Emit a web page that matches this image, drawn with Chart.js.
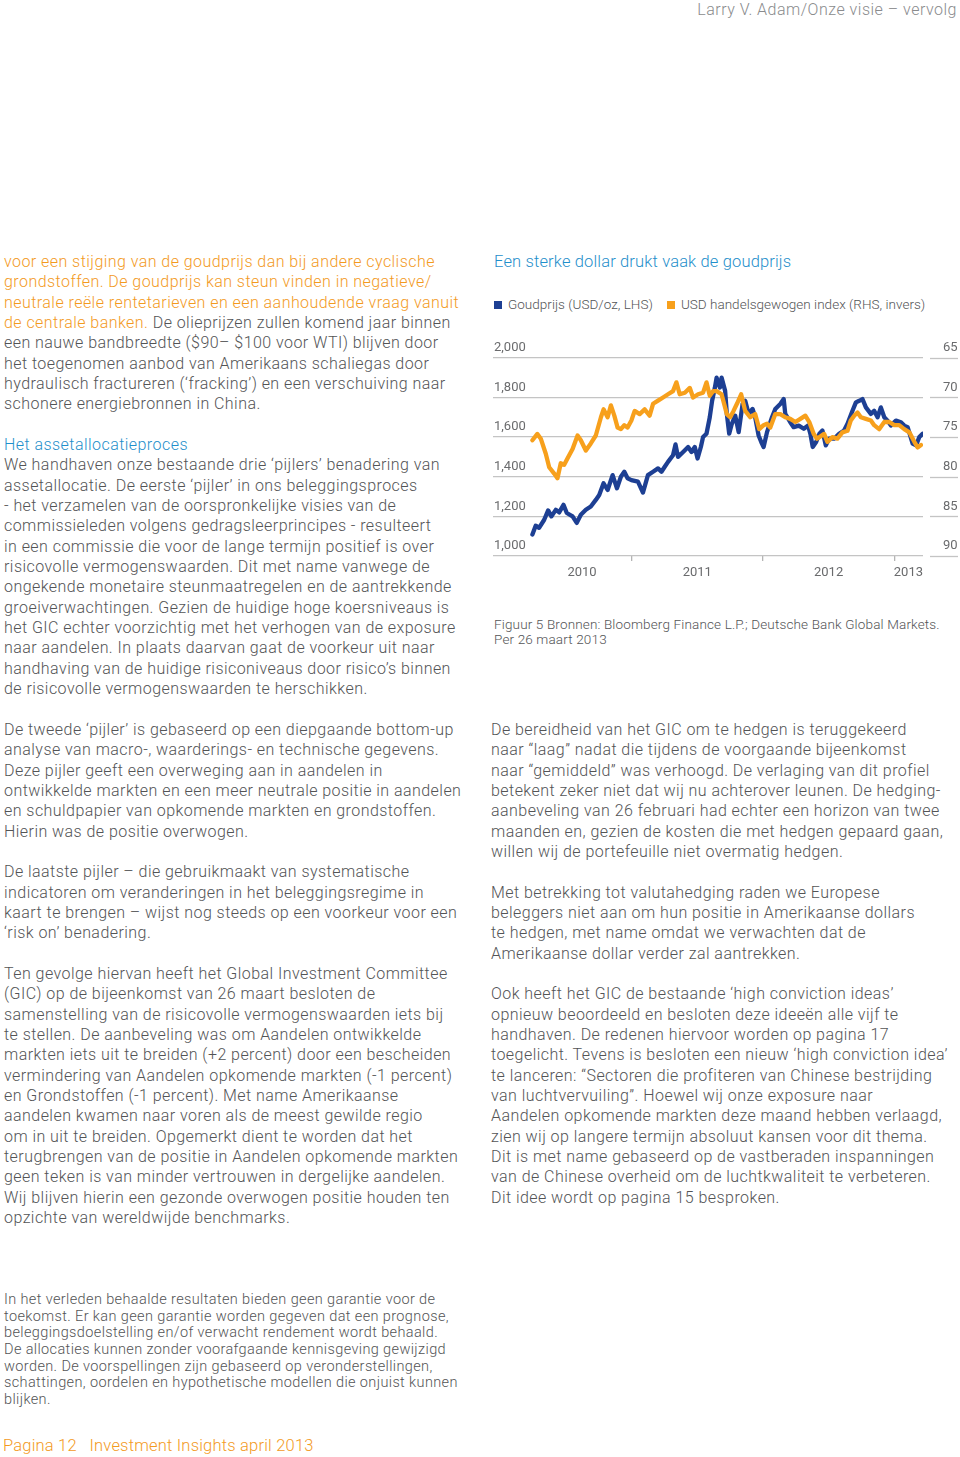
<!DOCTYPE html>
<html>
<head>
<meta charset="utf-8">
<script src="https://cdn.jsdelivr.net/npm/chart.js@4"></script>
<style>
  html, body { margin: 0; padding: 0; background: #fff; }
  body { width: 960px; height: 1457px; position: relative; overflow: hidden;
         font-family: 'Roboto', 'Liberation Sans', sans-serif; font-weight: 300; color: #535456; }
  .blk { position: absolute; font-size: 16px; letter-spacing: 0.45px; line-height: 20.33px; white-space: nowrap; }
  .or { color: #f39a1e; }
  .bl { color: #1f8fcb; }
  #header { position: absolute; right: 3px; top: 0; font-size: 16px; letter-spacing: 0.5px; color: #8a8b8d; line-height: 20px; }
  #title { position: absolute; left: 494px; top: 251px; font-size: 16.5px; letter-spacing: 0.15px; color: #1f8fcb; line-height: 22px; }
  #legend { position: absolute; left: 494px; top: 296px; font-size: 13.5px; letter-spacing: 0.02px; line-height: 16px; color: #535456; white-space: nowrap; }
  #legend span.box { display: inline-block; width: 8px; height: 8px; margin-right: 6px; vertical-align: 0px; }
  #legend span.item { margin-right: 14px; }
  #chartWrap { position: absolute; left: 490px; top: 330px; width: 470px; height: 260px; }
  #caption { position: absolute; left: 494px; top: 617px; font-size: 13.5px; letter-spacing: 0.15px; line-height: 15px; color: #535456; white-space: nowrap; }
  #disc { position: absolute; left: 4px; top: 1292px; font-size: 14.5px; letter-spacing: 0.38px; line-height: 16.67px; white-space: nowrap; }
  #foot { position: absolute; left: 3px; top: 1436px; font-size: 16.5px; letter-spacing: 0.2px; line-height: 20px; color: #f39a1e; white-space: nowrap; }
</style>
</head>
<body>
<div id="header">Larry V. Adam/Onze visie – vervolg</div>

<div class="blk" style="left:4px; top:252px;">
<span class="or">voor een stijging van de goudprijs dan bij andere cyclische<br>
grondstoffen. De goudprijs kan steun vinden in negatieve/<br>
neutrale reële rentetarieven en een aanhoudende vraag vanuit<br>
de centrale banken.</span> De olieprijzen zullen komend jaar binnen<br>
een nauwe bandbreedte ($90– $100 voor WTI) blijven door<br>
het toegenomen aanbod van Amerikaans schaliegas door<br>
hydraulisch fractureren (‘fracking’) en een verschuiving naar<br>
schonere energiebronnen in China.<br>
<br>
<span class="bl">Het assetallocatieproces</span><br>
We handhaven onze bestaande drie ‘pijlers’ benadering van<br>
assetallocatie. De eerste ‘pijler’ in ons beleggingsproces<br>
- het verzamelen van de oorspronkelijke visies van de<br>
commissieleden volgens gedragsleerprincipes - resulteert<br>
in een commissie die voor de lange termijn positief is over<br>
risicovolle vermogenswaarden. Dit met name vanwege de<br>
ongekende monetaire steunmaatregelen en de aantrekkende<br>
groeiverwachtingen. Gezien de huidige hoge koersniveaus is<br>
het GIC echter voorzichtig met het verhogen van de exposure<br>
naar aandelen. In plaats daarvan gaat de voorkeur uit naar<br>
handhaving van de huidige risiconiveaus door risico’s binnen<br>
de risicovolle vermogenswaarden te herschikken.
</div>

<div class="blk" style="left:4px; top:720px;">
De tweede ‘pijler’ is gebaseerd op een diepgaande bottom-up<br>
analyse van macro-, waarderings- en technische gegevens.<br>
Deze pijler geeft een overweging aan in aandelen in<br>
ontwikkelde markten en een meer neutrale positie in aandelen<br>
en schuldpapier van opkomende markten en grondstoffen.<br>
Hierin was de positie overwogen.<br>
<br>
De laatste pijler – die gebruikmaakt van systematische<br>
indicatoren om veranderingen in het beleggingsregime in<br>
kaart te brengen – wijst nog steeds op een voorkeur voor een<br>
‘risk on’ benadering.<br>
<br>
Ten gevolge hiervan heeft het Global Investment Committee<br>
(GIC) op de bijeenkomst van 26 maart besloten de<br>
samenstelling van de risicovolle vermogenswaarden iets bij<br>
te stellen. De aanbeveling was om Aandelen ontwikkelde<br>
markten iets uit te breiden (+2 percent) door een bescheiden<br>
vermindering van Aandelen opkomende markten (-1 percent)<br>
en Grondstoffen (-1 percent). Met name Amerikaanse<br>
aandelen kwamen naar voren als de meest gewilde regio<br>
om in uit te breiden. Opgemerkt dient te worden dat het<br>
terugbrengen van de positie in Aandelen opkomende markten<br>
geen teken is van minder vertrouwen in dergelijke aandelen.<br>
Wij blijven hierin een gezonde overwogen positie houden ten<br>
opzichte van wereldwijde benchmarks.
</div>

<div class="blk" style="left:491px; top:720px;">
De bereidheid van het GIC om te hedgen is teruggekeerd<br>
naar “laag” nadat die tijdens de voorgaande bijeenkomst<br>
naar “gemiddeld” was verhoogd. De verlaging van dit profiel<br>
betekent zeker niet dat wij nu achterover leunen. De hedging-<br>
aanbeveling van 26 februari had echter een horizon van twee<br>
maanden en, gezien de kosten die met hedgen gepaard gaan,<br>
willen wij de portefeuille niet overmatig hedgen.<br>
<br>
Met betrekking tot valutahedging raden we Europese<br>
beleggers niet aan om hun positie in Amerikaanse dollars<br>
te hedgen, met name omdat we verwachten dat de<br>
Amerikaanse dollar verder zal aantrekken.<br>
<br>
Ook heeft het GIC de bestaande ‘high conviction ideas’<br>
opnieuw beoordeeld en besloten deze ideeën alle vijf te<br>
handhaven. De redenen hiervoor worden op pagina 17<br>
toegelicht. Tevens is besloten een nieuw ‘high conviction idea’<br>
te lanceren: “Sectoren die profiteren van Chinese bestrijding<br>
van luchtvervuiling”. Hoewel wij onze exposure naar<br>
Aandelen opkomende markten deze maand hebben verlaagd,<br>
zien wij op langere termijn absoluut kansen voor dit thema.<br>
Dit is met name gebaseerd op de vastberaden inspanningen<br>
van de Chinese overheid om de luchtkwaliteit te verbeteren.<br>
Dit idee wordt op pagina 15 besproken.
</div>

<div id="title">Een sterke dollar drukt vaak de goudprijs</div>
<div id="legend"></div>
<div id="chartWrap"><canvas id="chart"></canvas></div>
<div id="caption">Figuur 5 Bronnen: Bloomberg Finance L.P.; Deutsche Bank Global Markets.<br>Per 26 maart 2013</div>

<div id="disc">
In het verleden behaalde resultaten bieden geen garantie voor de<br>
toekomst. Er kan geen garantie worden gegeven dat een prognose,<br>
beleggingsdoelstelling en/of verwacht rendement wordt behaald.<br>
De allocaties kunnen zonder voorafgaande kennisgeving gewijzigd<br>
worden. De voorspellingen zijn gebaseerd op veronderstellingen,<br>
schattingen, oordelen en hypothetische modellen die onjuist kunnen<br>
blijken.
</div>
<div id="foot">Pagina 12&nbsp;&nbsp;&nbsp;Investment Insights april 2013</div>

<script>
// series labels
const seriesLabels = ['Goudprijs (USD/oz, LHS)', 'USD handelsgewogen index (RHS, invers)'];
const seriesColors = ['#1d3f93', '#f7a01c'];

// gold price, dates as decimal years
const goldDates = [
  2010.244, 2010.269, 2010.295, 2010.334, 2010.364, 2010.389, 2010.422, 2010.448, 2010.481, 2010.506,
  2010.550, 2010.582, 2010.613, 2010.651, 2010.689, 2010.727, 2010.753, 2010.786, 2010.817, 2010.855,
  2010.888, 2010.918, 2010.944, 2010.969, 2010.998, 2011.048, 2011.086, 2011.124, 2011.163, 2011.201,
  2011.227, 2011.252, 2011.277, 2011.315, 2011.334, 2011.353, 2011.392, 2011.430, 2011.456, 2011.481,
  2011.502, 2011.527, 2011.544, 2011.570, 2011.595, 2011.613, 2011.634, 2011.647, 2011.672, 2011.685,
  2011.712, 2011.725, 2011.743, 2011.763, 2011.789, 2011.815, 2011.845, 2011.865, 2011.891, 2011.921,
  2011.941, 2011.967, 2011.987, 2012.005, 2012.031, 2012.069, 2012.094, 2012.132, 2012.158, 2012.170,
  2012.208, 2012.234, 2012.273, 2012.311, 2012.344, 2012.361, 2012.379, 2012.405, 2012.430, 2012.453,
  2012.479, 2012.504, 2012.542, 2012.580, 2012.618, 2012.644, 2012.682, 2012.708, 2012.733, 2012.758,
  2012.784, 2012.822, 2012.847, 2012.873, 2012.898, 2012.924, 2012.949, 2012.975, 2013.013, 2013.051,
  2013.076, 2013.102, 2013.140, 2013.166, 2013.191, 2013.216
];
const goldPrice = [
  1108, 1153, 1142, 1183, 1230, 1200, 1233, 1220, 1258, 1217,
  1200, 1167, 1208, 1233, 1250, 1283, 1308, 1367, 1333, 1408,
  1342, 1400, 1425, 1392, 1383, 1375, 1320, 1408, 1425, 1442,
  1425, 1450, 1475, 1508, 1563, 1500, 1525, 1550, 1525, 1550,
  1492, 1550, 1600, 1617, 1700, 1783, 1850, 1900, 1850, 1900,
  1833, 1717, 1617, 1667, 1708, 1625, 1767, 1783, 1717, 1742,
  1700, 1608, 1575, 1550, 1625, 1700, 1742, 1767, 1792, 1717,
  1675, 1650, 1658, 1642, 1658, 1617, 1550, 1575, 1617, 1633,
  1558, 1592, 1592, 1617, 1633, 1667, 1733, 1775, 1783, 1792,
  1750, 1717, 1733, 1700, 1750, 1700, 1683, 1658, 1683, 1675,
  1658, 1650, 1567, 1558, 1600, 1617
];

// USD trade weighted index (plotted inverted on right axis)
const usdDates = [
  2010.244, 2010.282, 2010.308, 2010.346, 2010.372, 2010.410, 2010.435, 2010.460, 2010.486, 2010.511,
  2010.550, 2010.588, 2010.613, 2010.651, 2010.689, 2010.727, 2010.766, 2010.786, 2010.817, 2010.842,
  2010.868, 2010.893, 2010.918, 2010.944, 2010.969, 2010.998, 2011.023, 2011.061, 2011.099, 2011.137,
  2011.163, 2011.201, 2011.239, 2011.277, 2011.315, 2011.341, 2011.366, 2011.405, 2011.443, 2011.468,
  2011.506, 2011.544, 2011.570, 2011.595, 2011.621, 2011.647, 2011.685, 2011.725, 2011.750, 2011.776,
  2011.802, 2011.834, 2011.865, 2011.903, 2011.941, 2011.972, 2012.005, 2012.031, 2012.056, 2012.094,
  2012.132, 2012.170, 2012.208, 2012.247, 2012.285, 2012.323, 2012.353, 2012.387, 2012.412, 2012.466,
  2012.491, 2012.529, 2012.567, 2012.605, 2012.644, 2012.669, 2012.695, 2012.720, 2012.746, 2012.784,
  2012.822, 2012.847, 2012.885, 2012.924, 2012.962, 2013.000, 2013.038, 2013.076, 2013.115, 2013.153,
  2013.178, 2013.204
];
const usdIndex = [
  75.4, 74.6, 75.2, 77.1, 78.8, 79.6, 80.2, 78.3, 78.5, 77.7,
  76.5, 74.8, 75.4, 76.7, 75.8, 74.8, 72.5, 71.5, 72.5, 71.0,
  72.3, 73.8, 74.0, 73.5, 73.8, 72.9, 71.7, 72.1, 71.5, 72.3,
  70.8, 70.4, 70.0, 69.6, 69.2, 68.1, 69.6, 69.4, 68.8, 70.0,
  69.6, 69.4, 68.1, 69.8, 69.2, 69.2, 69.6, 72.1, 72.5, 71.7,
  70.8, 69.6, 71.7, 72.5, 72.1, 74.0, 73.5, 73.3, 73.8, 72.1,
  72.1, 72.5, 72.7, 73.1, 72.7, 72.3, 73.1, 74.6, 75.2, 74.6,
  75.6, 75.0, 75.2, 74.4, 74.2, 72.9, 72.3, 71.9, 72.5, 72.7,
  72.9, 73.5, 74.0, 73.1, 73.1, 73.5, 73.5, 74.0, 74.4, 75.6,
  76.3, 76.0
];

// x axis: year boundaries get a tick mark, year labels sit mid-way in the visible part of each year
const yearLabels = ['2010', '2011', '2012', '2013'];
const yearBounds = [2011, 2012, 2013];

const firstDate = goldDates[0];
const lastDate = goldDates[goldDates.length - 1];
const labelPos = {};
yearLabels.forEach(y => {
  const yr = parseInt(y, 10);
  const c = (Math.max(yr, firstDate) + Math.min(yr + 1, lastDate)) / 2;
  labelPos[c.toFixed(4)] = y;
});

// html legend
const legendEl = document.getElementById('legend');
seriesLabels.forEach((lab, i) => {
  legendEl.innerHTML += `<span class="item"><span class="box" style="background:${seriesColors[i]}"></span>${lab}</span>`;
});

const rightSegments = {
  id: 'rightSegments',
  afterDraw(chart) {
    const ctx = chart.ctx;
    const sc = chart.scales.y2;
    ctx.save();
    ctx.strokeStyle = '#c4c4c4';
    ctx.lineWidth = 1.3;
    sc.ticks.forEach(t => {
      const y = Math.round(sc.getPixelForValue(t.value)) + 0.5;
      ctx.beginPath();
      ctx.moveTo(chart.chartArea.right + 7, y);
      ctx.lineTo(chart.width - 2, y);
      ctx.stroke();
    });
    ctx.restore();
  }
};

Chart.defaults.font.family = 'Roboto';
Chart.defaults.font.size = 13;
Chart.defaults.color = '#6a6b6d';

new Chart(document.getElementById('chart'), {
  type: 'line',
  data: {
    datasets: [
      {
        label: seriesLabels[0],
        data: goldDates.map((d, i) => ({ x: d, y: goldPrice[i] })),
        borderColor: seriesColors[0],
        yAxisID: 'y',
        order: 2
      },
      {
        label: seriesLabels[1],
        data: usdDates.map((d, i) => ({ x: d, y: usdIndex[i] })),
        borderColor: seriesColors[1],
        yAxisID: 'y2',
        order: 1
      }
    ]
  },
  options: {
    responsive: true,
    maintainAspectRatio: false,
    animation: false,
    layout: { padding: { top: 26, bottom: 4, left: 0, right: 0 } },
    elements: {
      line: { borderWidth: 4.3, tension: 0, borderJoinStyle: 'round', borderCapStyle: 'round' },
      point: { radius: 0 }
    },
    plugins: {
      legend: { display: false },
      tooltip: { enabled: false }
    },
    scales: {
      x: {
        type: 'linear',
        min: 2009.944,
        max: 2013.219,
        afterBuildTicks(scale) {
          const vals = yearBounds.concat(Object.keys(labelPos).map(Number));
          vals.sort((a, b) => a - b);
          scale.ticks = vals.map(v => ({ value: v }));
        },
        afterFit(scale) { scale.height = 30; },
        border: { display: false },
        grid: {
          drawOnChartArea: false,
          drawTicks: true,
          tickLength: 5,
          lineWidth: 1.3,
          tickColor: ctx => (ctx.tick && yearBounds.includes(ctx.tick.value)) ? '#b5b5b5' : 'rgba(0,0,0,0)'
        },
        ticks: {
          autoSkip: false,
          maxRotation: 0,
          padding: 4,
          callback: v => labelPos[Number(v).toFixed(4)] || ''
        }
      },
      y: {
        position: 'left',
        min: 1000,
        max: 2000,
        afterFit(scale) { scale.width = 3; },
        border: { display: false },
        grid: { color: '#c4c4c4', lineWidth: 1.3, drawTicks: false },
        ticks: {
          stepSize: 200,
          mirror: true,
          padding: 1,
          labelOffset: -10,
          callback: v => v.toLocaleString('en-US')
        }
      },
      y2: {
        position: 'right',
        min: 65,
        max: 90,
        reverse: true,
        afterFit(scale) { scale.width = 37; },
        border: { display: false },
        grid: { drawOnChartArea: false, drawTicks: false },
        ticks: {
          stepSize: 5,
          padding: 20,
          labelOffset: -10
        }
      }
    }
  },
  plugins: [rightSegments]
});
</script>
</body>
</html>
